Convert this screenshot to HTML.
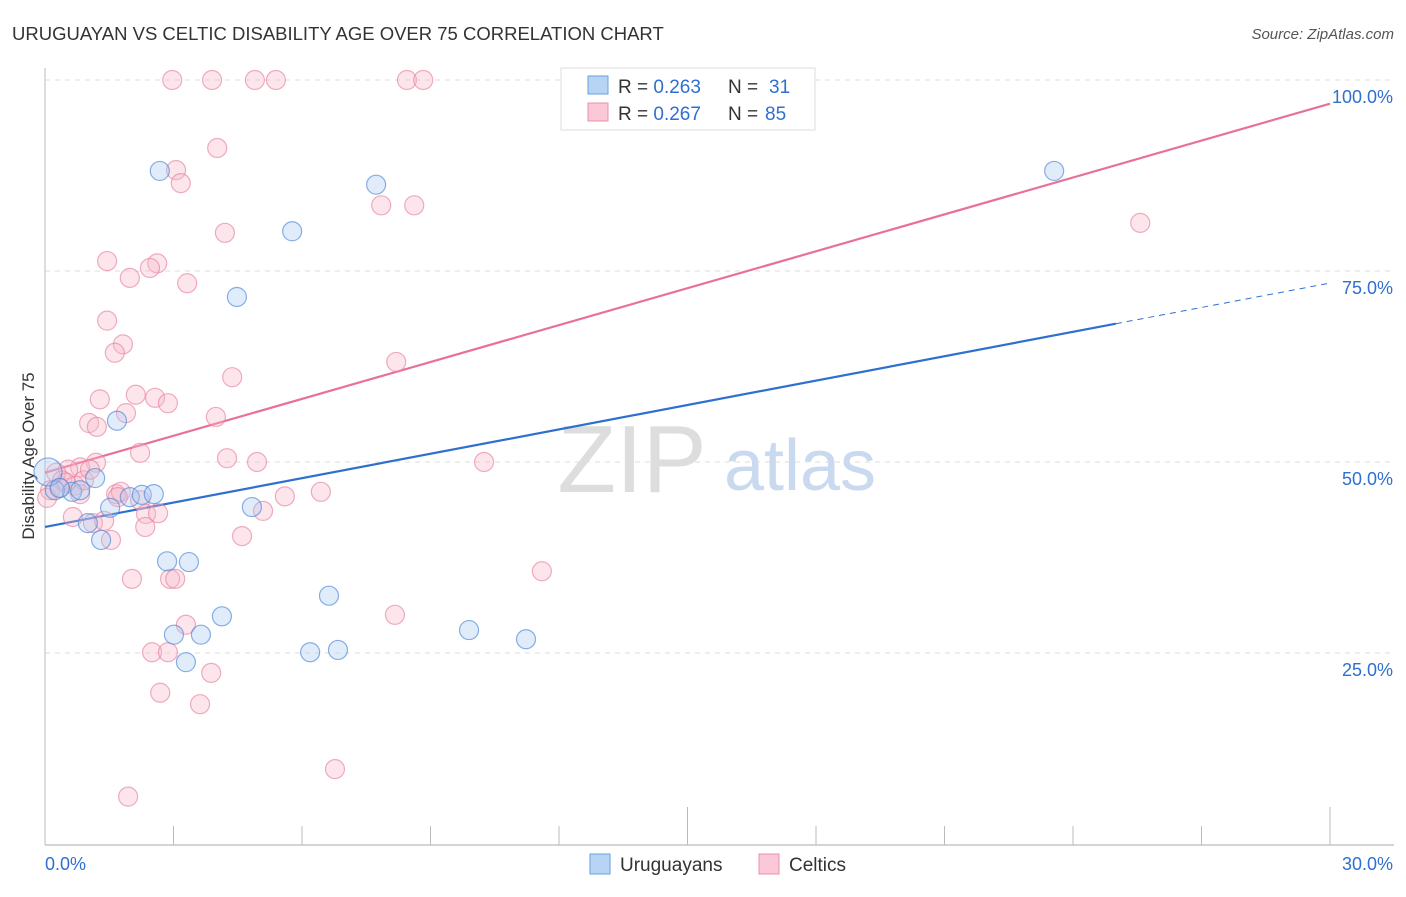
<!DOCTYPE html>
<html><head><meta charset="utf-8"><style>
body{margin:0;background:#fff;font-family:"Liberation Sans",sans-serif}
svg text{font-family:"Liberation Sans",sans-serif}
</style></head><body>
<svg id="chart" width="1406" height="892">
<text x="12" y="40" font-size="18.5" fill="#333">URUGUAYAN VS CELTIC DISABILITY AGE OVER 75 CORRELATION CHART</text>
<text x="1394" y="39" font-size="15" fill="#555" font-style="italic" text-anchor="end">Source: ZipAtlas.com</text>
<text x="34" y="456" font-size="17" fill="#333" text-anchor="middle" transform="rotate(-90 34 456)">Disability Age Over 75</text>
<g><text x="632" y="492" font-size="96" fill="#ddd" text-anchor="middle" font-family="Liberation Serif">ZIP</text><text x="800" y="490" font-size="72" fill="#c9d9ef" text-anchor="middle">atlas</text></g>
<g id="grid"></g><g id="axes"></g><g id="lines"></g><g id="pts"></g>
<g>
<rect x="561" y="68" width="254" height="62" fill="#fff" stroke="#ddd"/>
<rect x="588" y="76" width="20" height="18" fill="#b8d4f5" stroke="#6a9fe0"/>
<rect x="588" y="103" width="20" height="18" fill="#fbc8d7" stroke="#e890ab"/>
<text x="618" y="93" font-size="19" fill="#333">R = <tspan fill="#2f6fd0">0.263</tspan></text>
<text x="728" y="93" font-size="19" fill="#333">N =</text><text x="769" y="93" font-size="19" fill="#2f6fd0">31</text>
<text x="618" y="120" font-size="19" fill="#333">R = <tspan fill="#2f6fd0">0.267</tspan></text>
<text x="728" y="120" font-size="19" fill="#333">N =</text><text x="765" y="120" font-size="19" fill="#2f6fd0">85</text>
</g>
<g>
<rect x="590" y="854" width="20" height="20" fill="#b8d4f5" stroke="#6a9fe0"/>
<text x="620" y="871" font-size="19" fill="#333">Uruguayans</text>
<rect x="759" y="854" width="20" height="20" fill="#fbc8d7" stroke="#e890ab"/>
<text x="789" y="871" font-size="19" fill="#333">Celtics</text>
</g>
</svg>
<script>
const xTicks=[0,30];
const yTicks=[25,50,75,100];
const uruX=[2.68,7.73,5.77,4.48,23.56,1.68,1.17,0.63,0.23,1.52,1.98,2.26,2.54,4.83,1.00,1.31,2.85,3.36,4.13,3.01,3.64,3.29,6.19,6.84,6.63,9.90,11.23,0.07,0.35,0.82];
const uruY=[88.1,86.3,80.2,71.6,88.1,55.4,47.9,46.1,46.3,44.0,45.4,45.7,45.8,44.1,42.0,39.8,37.0,36.9,29.8,27.4,27.4,23.8,25.1,25.4,32.5,28.0,26.8,48.7,46.6,46.3];
const celX=[2.97,3.90,4.90,5.39,8.45,8.83,4.02,3.06,3.17,7.85,8.62,4.20,25.57,1.45,2.62,2.45,1.98,3.32,1.45,1.82,1.63,8.20,4.37,1.28,2.12,2.57,2.87,1.89,3.99,1.03,1.21,2.22,4.25,4.95,10.25,1.19,0.82,0.54,0.26,0.40,0.70,0.12,0.05,0.82,1.66,1.77,1.70,2.22,6.44,5.60,5.09,2.36,2.64,2.34,4.60,0.65,1.12,1.38,1.54,2.03,2.92,3.04,11.60,8.17,3.29,2.50,2.87,3.88,2.69,3.62,6.77,1.94,0.49,0.33,0.91,1.05];
const celY=[100,100,100,100,100,100,91.1,88.2,86.5,83.6,83.6,80.0,81.3,76.3,76.0,75.4,74.1,73.4,68.5,65.4,64.3,63.1,61.1,58.2,58.8,58.4,57.7,56.4,55.9,55.1,54.6,51.2,50.5,50.0,50.0,49.9,49.3,49.0,48.6,47.6,46.9,46.3,45.3,45.8,45.8,46.1,45.4,45.0,46.1,45.5,43.6,43.2,43.3,41.5,40.3,42.8,42.0,42.3,39.8,34.7,34.7,34.7,35.7,30.0,28.7,25.1,25.1,22.4,19.8,18.3,9.8,6.2,47.3,46.6,47.6,49.0];
const uruFit=[41.5,1.064];
const celFit=[48.6,1.61];
const X=v=>45+v/30*1285, Y=v=>844-v*7.64;
const NS="http://www.w3.org/2000/svg";
function mk(p,t,a){const e=document.createElementNS(NS,t);for(const k in a)e.setAttribute(k,a[k]);document.getElementById(p).appendChild(e);return e;}
yTicks.forEach(t=>{
 const g=mk('grid','line',{x1:45,x2:1394,y1:Y(t),y2:Y(t),stroke:'#ddd','stroke-dasharray':'5,5'});
 
 
 const l=mk('grid','text',{x:1393,y:Y(t)+23,'font-size':18,fill:'#2f6fd0','text-anchor':'end'});l.textContent=t.toFixed(1)+'%';
 
 
});
mk('axes','line',{x1:45,x2:45,y1:68,y2:845,stroke:'#bbb'});
const xa=mk('axes','line',{x1:45,x2:1394,y1:845,y2:845,stroke:'#aaa'});


for(let k=1;k<=10;k++){const x=X(k*3);mk('axes','line',{x1:x,x2:x,y1:(k%5==0)?807:826,y2:845,stroke:'#bbb'});}
xTicks.forEach((t,i)=>{const l=mk('axes','text',{x:i?1393:45,y:870,'font-size':18,fill:'#2f6fd0','text-anchor':i?'end':'start'});l.textContent=t.toFixed(1)+'%';
 
 });
function pts(xs,ys,fill,stroke,name,big){xs.forEach((x,i)=>{const c=mk('pts','circle',{cx:X(x),cy:Y(ys[i]),r:(big&&x<0.1?14:9.5),fill:fill,'fill-opacity':0.35,stroke:stroke,'stroke-opacity':0.65,'stroke-width':1.2});
 
 });}
pts(celX,celY,'#f7b6c9','#e8819f','celtic-point',false);
pts(uruX,uruY,'#a8c8f0','#4a86d8','uruguayan-point',true);
const b1=mk('lines','line',{x1:X(0),y1:Y(uruFit[0]),x2:X(25),y2:Y(uruFit[0]+25*uruFit[1]),stroke:'#2f6fd0','stroke-width':2.2});


mk('lines','line',{x1:X(25),y1:Y(uruFit[0]+25*uruFit[1]),x2:X(30),y2:Y(uruFit[0]+30*uruFit[1]),stroke:'#2f6fd0','stroke-width':1,'stroke-dasharray':'6,5'});
const p1=mk('lines','line',{x1:X(0),y1:Y(celFit[0]),x2:X(30),y2:Y(celFit[0]+30*celFit[1]),stroke:'#e8709a','stroke-width':2.2});


</script>
</body></html>
